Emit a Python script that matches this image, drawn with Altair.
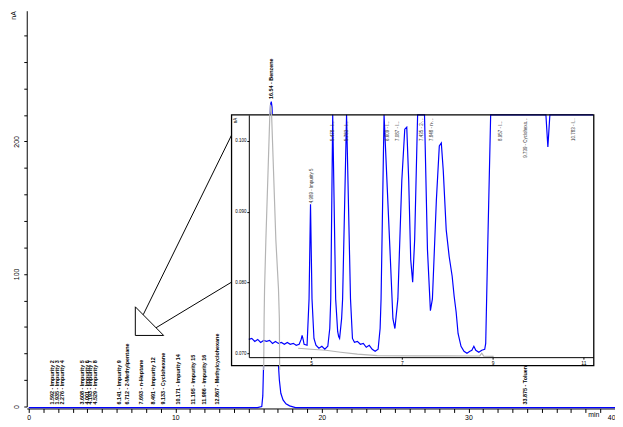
import altair as alt
import pandas as pd

FONT = "Liberation Sans"
BLUE = "#0000ff"
GRAY = "#b4b4b4"

# ---------------- main chromatogram (time in min, signal in nA) ----------------
main_time = [0, 15.6, 15.9, 15.97, 16.02, 16.1, 16.25, 16.4, 16.5, 16.55, 16.6,
             16.7, 16.8, 16.9, 17.0, 17.1, 17.2, 17.35, 17.55, 17.8, 18.2, 40]
main_signal = [-0.8, -0.8, 0, 8, 30, 70, 140, 200, 228, 230, 226,
               190, 130, 75, 38, 20, 10, 5, 2, 0.5, -0.8, -0.8]

# grey reference trace peak drawn over the inset
gray_peak_time = [16.03, 16.06, 16.09, 16.18, 16.33, 16.45, 16.49, 16.57, 16.70, 16.86, 17.04, 17.10, 17.12]
gray_peak_signal = [27.5, 66.3, 88.6, 125.8, 178.0, 220.4, 227.8, 220.4, 178.0, 125.8, 88.6, 66.3, 27.5]

peak_label_text = ["1.592 - Impurity 2", "1.935 - Impurity 3", "2.276 - Impurity 4",
                   "3.608 - Impurity 5", "4.001 - Impurity 6", "4.193 - Impurity 7",
                   "4.529 - Impurity 8", "6.141 - Impurity 9", "6.712 - 2-Methylpentane",
                   "7.693 - n-Heptane", "8.491 - Impurity 12", "9.133 - Cyclohexane",
                   "10.171 - Impurity 14", "11.195 - Impurity 15", "11.986 - Impurity 16",
                   "12.867 - Methylcyclohexane", "16.54 - Benzene", "33.875 - Toluene"]
peak_label_time = [1.592, 1.935, 2.276, 3.608, 4.001, 4.193, 4.529, 6.141, 6.712,
                   7.693, 8.491, 9.133, 10.171, 11.195, 11.986, 12.867, 16.54, 33.875]
peak_label_height = [1.5, 1.5, 1.5, 1.5, 1.5, 1.5, 1.5, 1.5, 1.5,
                     1.5, 1.5, 1.5, 1.5, 1.5, 1.5, 1.5, 232, 1.5]

main_x_ticks = list(range(0, 41))
main_y_ticks = list(range(0, 300, 20))

# ---------------- inset (zoom on baseline) ----------------
inset_time = [3.630, 3.696, 3.761, 3.826, 3.891, 3.957, 4.022, 4.087, 4.152, 4.217,
              4.283, 4.348, 4.413, 4.478, 4.543, 4.609, 4.674, 4.739, 4.783, 4.804,
              4.826, 4.848, 4.913, 4.957, 4.989, 5.022, 5.065, 5.109, 5.174, 5.239,
              5.304, 5.370, 5.413, 5.435, 5.478, 5.543, 5.587, 5.609, 5.630, 5.674,
              5.696, 5.783, 5.870, 5.913, 5.957, 6.022, 6.087, 6.152, 6.217, 6.283,
              6.348, 6.413, 6.478, 6.522, 6.543, 6.609, 6.739, 6.804, 6.848, 6.913,
              7.000, 7.065, 7.109, 7.152, 7.196, 7.239, 7.283, 7.348, 7.500, 7.565,
              7.630, 7.674, 7.761, 7.826, 7.870, 7.913, 7.978, 8.043, 8.109, 8.152,
              8.196, 8.239, 8.304, 8.370, 8.435, 8.500, 8.543, 8.587, 8.630, 8.696,
              8.761, 8.826, 8.848, 8.891, 8.957, 10.174, 10.217, 10.261, 11.217]
inset_signal = [0.07195, 0.07209, 0.07167, 0.07195, 0.07153, 0.07181, 0.07167, 0.07181, 0.07139, 0.07167,
                0.07139, 0.07153, 0.07126, 0.07153, 0.07126, 0.07139, 0.07112, 0.07126, 0.07195, 0.07251,
                0.07195, 0.07126, 0.07112, 0.07767, 0.09106, 0.07767, 0.07209, 0.07112, 0.07070, 0.07098,
                0.07056, 0.07098, 0.07349, 0.07767, 0.112, 0.07767, 0.07307, 0.07237, 0.07209, 0.07488,
                0.07767, 0.112, 0.07767, 0.07209, 0.07153, 0.07167, 0.07126, 0.07139, 0.07084, 0.07112,
                0.07056, 0.07028, 0.07056, 0.07349, 0.07767, 0.112, 0.08464, 0.07488, 0.07349, 0.07767,
                0.09441, 0.10166, 0.10194, 0.09441, 0.08325, 0.08004, 0.08604, 0.112, 0.112, 0.08464,
                0.07600, 0.07767, 0.09162, 0.09929, 0.09971, 0.09580, 0.08743, 0.08367, 0.08088, 0.07809,
                0.07586, 0.07279, 0.07098, 0.07028, 0.07000, 0.07028, 0.07042, 0.07098, 0.07042, 0.07014,
                0.07042, 0.07056, 0.07139, 0.08464, 0.112, 0.112, 0.09915, 0.112, 0.112]

inset_gray_time = [4.717, 5.000, 5.326, 5.652, 6.022, 6.457, 7.283, 8.000, 8.717, 8.761, 8.804, 9.022]
inset_gray_signal = [0.07070, 0.07056, 0.07042, 0.07014, 0.06986, 0.06965, 0.06962, 0.06962, 0.06961, 0.07000, 0.06958, 0.06954]

inset_label_time = [5.022, 5.478, 5.783, 6.696, 6.913, 7.435, 7.674, 9.174, 9.739, 10.783]
inset_label_signal = [0.0912, 0.1000, 0.1000, 0.1000, 0.1000, 0.1000, 0.1000, 0.1000, 0.09762, 0.1000]
inset_label_text = ["4.989 - Impurity 5", "5.478 - Impurity 6", "5.783 - Impurity 7",
                    "6.609 - Impurity 8", "7.087 - Impurity 9", "7.435 - 2-Methylpentane",
                    "7.848 - n-Heptane", "8.957 - Impurity 12", "9.739 - Cyclohexane",
                    "10.783 - Impurity 14"]

inset_x_ticks = [5, 7, 9, 11]
inset_y_ticks = [0.07, 0.08, 0.09, 0.10]

# ---------------- data frames ----------------
main_df = pd.DataFrame({"t": main_time, "v": main_signal})
gray_df = pd.DataFrame({"t": gray_peak_time, "v": gray_peak_signal})
labels_df = pd.DataFrame({"t": peak_label_time, "v": peak_label_height, "label": peak_label_text})
inset_df = pd.DataFrame({"t": inset_time, "v": inset_signal})
inset_gray_df = pd.DataFrame({"t": inset_gray_time, "v": inset_gray_signal})
inset_lab_df = pd.DataFrame({"t": inset_label_time, "v": inset_label_signal, "label": inset_label_text})
one = pd.DataFrame({"k": [0]})

# ---------------- main scales / axes ----------------
xs_main = alt.Scale(domain=[-0.135, 40.0], nice=False, zero=False)
ys_main = alt.Scale(domain=[0, 298.6], nice=False, zero=False)

x_main_axis = alt.Axis(values=main_x_ticks, format="d",
                       labelExpr="datum.value % 10 === 0 ? datum.label : ''",
                       tickSize=4, labelFontSize=7, labelPadding=1, offset=2,
                       title="min", titleX=574, titleY=8, titleFontSize=7,
                       titleAlign="center", titleBaseline="alphabetic",
                       labelOverlap=False)
y_main_axis = alt.Axis(values=main_y_ticks,
                       labelExpr="datum.value % 100 === 0 ? datum.label : ''",
                       tickSize=3, labelAngle=270, labelAlign="center",
                       labelBaseline="bottom", labelPadding=4, labelFontSize=7,
                       title="nA", titleAngle=270, titleX=-10, titleY=0,
                       titleAlign="right", titleBaseline="bottom", titleFontSize=7,
                       labelOverlap=False)

X_MAIN = alt.X("t:Q", scale=xs_main, axis=x_main_axis)
Y_MAIN = alt.Y("v:Q", scale=ys_main, axis=y_main_axis)


def seg(x1, y1, x2, y2):
    return alt.Chart(one).mark_rule(color="black", strokeWidth=1).encode(
        x=alt.value(x1), y=alt.value(y1), x2=alt.value(x2), y2=alt.value(y2))


main_line = alt.Chart(main_df).mark_line(color=BLUE, strokeWidth=1.2).encode(x=X_MAIN, y=Y_MAIN)
main_labels = alt.Chart(labels_df).mark_text(
    angle=270, align="left", baseline="middle", font=FONT, fontSize=5.5,
    fontWeight="bold", color="black"
).encode(x=X_MAIN, y=Y_MAIN, text="label:N")

box_fill = alt.Chart(one).mark_rect(fill="white", strokeOpacity=0).encode(
    x=alt.value(207.5), x2=alt.value(574.5), y=alt.value(105.5), y2=alt.value(359.5))

main_layer = alt.layer(
    main_line, main_labels,
    seg(110, 300, 110, 329), seg(110, 329, 138.7, 329), seg(110, 300, 138.7, 329),
    seg(118, 308, 208, 125), seg(131, 321.2, 207.5, 275),
    box_fill,
)

# ---------------- inset scales / axes ----------------
xs_in = alt.Scale(domain=[3.6304, 11.2174], range=[225, 574], nice=False, zero=False)
ys_in = alt.Scale(domain=[0.069442, 0.103682], range=[351, 105.5], clamp=True, nice=False, zero=False)

x_in_axis = alt.Axis(orient="bottom", offset=-50, values=inset_x_ticks, format="d",
                     tickSize=2, labelFontSize=5, labelPadding=1, title=None,
                     zindex=1, labelFlush=False, labelOverlap=False)
y_in_axis = alt.Axis(orient="left", offset=-225, values=inset_y_ticks, format=".3f",
                     tickSize=2, labelFontSize=4.5, labelPadding=1,
                     title="nA", titleAngle=270, titleX=-11, titleY=108,
                     titleAlign="right", titleBaseline="bottom", titleFontSize=4.5,
                     zindex=1, labelOverlap=False)

X_IN = alt.X("t:Q", scale=xs_in, axis=x_in_axis)
Y_IN = alt.Y("v:Q", scale=ys_in, axis=y_in_axis)

inset_gray = alt.Chart(inset_gray_df).mark_line(color=GRAY, strokeWidth=1.2).encode(x=X_IN, y=Y_IN)
inset_line = alt.Chart(inset_df).mark_line(color=BLUE, strokeWidth=1.2).encode(x=X_IN, y=Y_IN)


def inset_text(df, limit):
    return alt.Chart(df).mark_text(
        angle=270, align="left", baseline="middle", font=FONT, fontSize=4.5,
        color="#333333", limit=limit, ellipsis=""
    ).encode(x=X_IN, y=Y_IN, text="label:N")


lab_a = inset_text(inset_lab_df.iloc[[1, 2, 3, 4, 5, 6, 7, 9]], 24)
lab_b = inset_text(inset_lab_df.iloc[[8]], 41)
lab_c = inset_text(inset_lab_df.iloc[[0]], 60)

box_outline = alt.Chart(one).mark_rect(filled=False, stroke="black", strokeWidth=1.3).encode(
    x=alt.value(207.5), x2=alt.value(574.5), y=alt.value(105.5), y2=alt.value(359.5))

inset_layer = alt.layer(inset_gray, inset_line, lab_a, lab_b, lab_c, box_outline)

# ---------------- grey overlay peak (main coordinates) ----------------
overlay = alt.Chart(gray_df).mark_line(color=GRAY, strokeWidth=1.2).encode(
    x=alt.X("t:Q", scale=xs_main, axis=None),
    y=alt.Y("v:Q", scale=ys_main, axis=None),
)

chart = alt.layer(main_layer, inset_layer, overlay).resolve_scale(
    x="independent", y="independent"
).properties(
    width=596, height=401,
    padding={"left": 19, "top": 0, "right": 0, "bottom": 18},
    autosize=alt.AutoSizeParams(type="none"),
).configure_view(stroke=None).configure_axis(
    grid=False, labelFont=FONT, titleFont=FONT, labelColor="black", titleColor="black",
    domainColor="black", tickColor="black", titleFontWeight="normal", domainWidth=1, tickWidth=1,
)

chart.save("out.html", embed_options={"renderer": "svg", "actions": False})
